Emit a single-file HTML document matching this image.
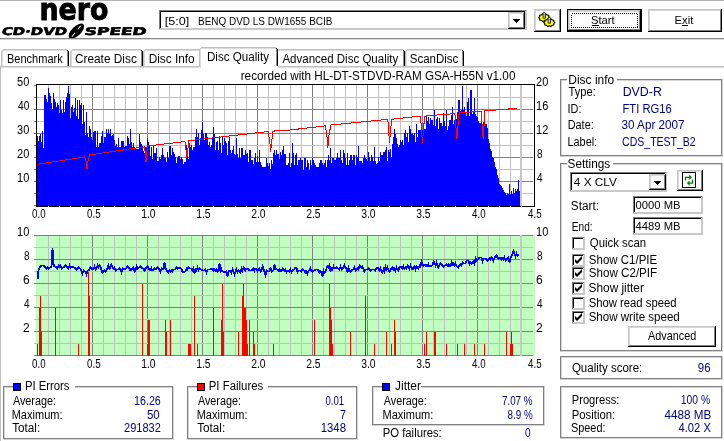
<!DOCTYPE html>
<html><head><meta charset="utf-8"><title>Nero CD-DVD Speed</title>
<style>html,body{margin:0;padding:0;background:#fff;overflow:hidden}svg{display:block}text{shape-rendering:auto}</style>
</head><body>
<svg width="724" height="441" viewBox="0 0 724 441" font-family="Liberation Sans, Arial, sans-serif" shape-rendering="crispEdges"><rect x="0" y="0" width="724" height="1" fill="#b4b4b4"/>
<text x="39.5" y="19.6" font-family="DejaVu Sans, sans-serif" font-weight="bold" font-size="30" fill="#000" stroke="#000" stroke-width="0.9" textLength="69" lengthAdjust="spacingAndGlyphs">nero</text>
<g transform="translate(6.2,0) skewX(-11)">
<text x="1.8" y="35.2" font-family="DejaVu Sans, sans-serif" font-weight="bold" font-size="10.5" fill="#000" stroke="#000" stroke-width="0.6" stroke-linejoin="round" textLength="65.2" lengthAdjust="spacingAndGlyphs">CD·DVD</text>
<text x="84.6" y="35.2" font-family="DejaVu Sans, sans-serif" font-weight="bold" font-size="10.5" fill="#000" stroke="#000" stroke-width="0.6" stroke-linejoin="round" textLength="62" lengthAdjust="spacingAndGlyphs">SPEED</text>
</g>
<g transform="translate(76.4,31.1) rotate(-44)" shape-rendering="auto"><ellipse cx="0" cy="0" rx="9.8" ry="4.6" fill="#000"/><path d="M-7.2,0.9 L-2,0.3 M2.2,-0.3 L6.8,-0.9" stroke="#fff" stroke-width="1"/></g>
<rect x="159" y="10" width="368" height="1" fill="#808080"/>
<rect x="159" y="10" width="1" height="20" fill="#808080"/>
<rect x="159" y="29" width="368" height="1" fill="#c8c8c8"/>
<rect x="526" y="10" width="1" height="20" fill="#c8c8c8"/>
<rect x="160" y="11" width="366" height="1" fill="#000"/>
<rect x="160" y="11" width="1" height="18" fill="#000"/>
<rect x="160" y="28" width="366" height="1" fill="#c8c8c8"/>
<rect x="525" y="11" width="1" height="18" fill="#c8c8c8"/>
<rect x="161" y="12" width="364" height="16" fill="#fff"/>
<rect x="508" y="12" width="17" height="17" fill="#fff"/>
<rect x="508" y="12" width="17" height="1" fill="#c4c4c4"/>
<rect x="508" y="12" width="1" height="17" fill="#c4c4c4"/>
<rect x="509" y="13" width="15" height="1" fill="#d8d8d8"/>
<rect x="509" y="13" width="1" height="15" fill="#d8d8d8"/>
<rect x="508" y="28" width="17" height="1" fill="#000"/>
<rect x="524" y="12" width="1" height="17" fill="#000"/>
<rect x="509" y="27" width="15" height="1" fill="#808080"/>
<rect x="523" y="13" width="1" height="15" fill="#808080"/>
<path d="M513,19 h7 l-3.5,4 z" fill="#000"/>
<rect x="534" y="9" width="27" height="23" fill="#fff"/>
<rect x="534" y="9" width="27" height="1" fill="#c4c4c4"/>
<rect x="534" y="9" width="1" height="23" fill="#c4c4c4"/>
<rect x="535" y="10" width="25" height="1" fill="#d8d8d8"/>
<rect x="535" y="10" width="1" height="21" fill="#d8d8d8"/>
<rect x="534" y="31" width="27" height="1" fill="#000"/>
<rect x="560" y="9" width="1" height="23" fill="#000"/>
<rect x="535" y="30" width="25" height="1" fill="#808080"/>
<rect x="559" y="10" width="1" height="21" fill="#808080"/>
<polygon points="549.80,17.60 548.67,18.64 548.73,19.95 546.96,20.32 545.93,21.40 544.20,20.96 542.47,21.40 541.44,20.32 539.67,19.95 539.73,18.64 538.60,17.60 539.73,16.56 539.67,15.25 541.44,14.88 542.47,13.80 544.20,14.24 545.93,13.80 546.96,14.88 548.73,15.25 548.67,16.56" fill="#ffff00" stroke="#000" stroke-width="1.1" stroke-linejoin="round" shape-rendering="auto"/>
<path d="M543.0,18.200000000000003 V13.400000000000002 L544.2,11.8 L545.4000000000001,13.400000000000002 V18.200000000000003 Z" fill="#b8b8d0" stroke="#000" stroke-width="0.7" shape-rendering="auto"/>
<polygon points="554.90,22.60 553.77,23.64 553.83,24.95 552.06,25.32 551.03,26.40 549.30,25.96 547.57,26.40 546.54,25.32 544.77,24.95 544.83,23.64 543.70,22.60 544.83,21.56 544.77,20.25 546.54,19.88 547.57,18.80 549.30,19.24 551.03,18.80 552.06,19.88 553.83,20.25 553.77,21.56" fill="#ffff00" stroke="#000" stroke-width="1.1" stroke-linejoin="round" shape-rendering="auto"/>
<path d="M548.0999999999999,23.200000000000003 V18.400000000000002 L549.3,16.8 L550.5,18.400000000000002 V23.200000000000003 Z" fill="#b8b8d0" stroke="#000" stroke-width="0.7" shape-rendering="auto"/>
<rect x="567" y="9" width="75" height="23" fill="#fff"/>
<rect x="567.5" y="9.5" width="74" height="22" fill="none" stroke="#000"/>
<rect x="568" y="10" width="73" height="1" fill="#c4c4c4"/>
<rect x="568" y="10" width="1" height="21" fill="#c4c4c4"/>
<rect x="569" y="11" width="71" height="1" fill="#d8d8d8"/>
<rect x="569" y="11" width="1" height="19" fill="#d8d8d8"/>
<rect x="568" y="30" width="73" height="1" fill="#000"/>
<rect x="640" y="10" width="1" height="21" fill="#000"/>
<rect x="569" y="29" width="71" height="1" fill="#808080"/>
<rect x="639" y="11" width="1" height="19" fill="#808080"/>
<rect x="571.5" y="13.5" width="66" height="14" fill="none" stroke="#000" stroke-width="1" stroke-dasharray="1,1"/>
<rect x="592" y="25" width="7" height="1" fill="#000"/>
<rect x="648" y="9" width="74" height="23" fill="#fff"/>
<rect x="648" y="9" width="74" height="1" fill="#c4c4c4"/>
<rect x="648" y="9" width="1" height="23" fill="#c4c4c4"/>
<rect x="649" y="10" width="72" height="1" fill="#d8d8d8"/>
<rect x="649" y="10" width="1" height="21" fill="#d8d8d8"/>
<rect x="648" y="31" width="74" height="1" fill="#000"/>
<rect x="721" y="9" width="1" height="23" fill="#000"/>
<rect x="649" y="30" width="72" height="1" fill="#808080"/>
<rect x="720" y="10" width="1" height="21" fill="#808080"/>
<rect x="682" y="25" width="6" height="1" fill="#000"/>
<rect x="0" y="38" width="724" height="1" fill="#868686"/>
<rect x="0" y="39" width="724" height="1" fill="#dadada"/>
<rect x="0" y="66" width="724" height="1" fill="#c0c0c0"/>
<rect x="1" y="67" width="723" height="1" fill="#dcdcdc"/>
<rect x="0" y="66" width="1" height="375" fill="#c0c0c0"/>
<rect x="3" y="49" width="64" height="1" fill="#c0c0c0"/>
<rect x="3" y="50" width="64" height="1" fill="#dcdcdc"/>
<rect x="1" y="51" width="1" height="15" fill="#c0c0c0"/>
<rect x="2" y="51" width="1" height="15" fill="#dcdcdc"/>
<rect x="2" y="50" width="1" height="1" fill="#c0c0c0"/>
<rect x="68" y="51" width="1" height="15" fill="#000"/>
<rect x="67" y="50" width="1" height="1" fill="#000"/>
<rect x="67" y="51" width="1" height="15" fill="#909090"/>
<rect x="72" y="49" width="69" height="1" fill="#c0c0c0"/>
<rect x="72" y="50" width="69" height="1" fill="#dcdcdc"/>
<rect x="70" y="51" width="1" height="15" fill="#c0c0c0"/>
<rect x="71" y="51" width="1" height="15" fill="#dcdcdc"/>
<rect x="71" y="50" width="1" height="1" fill="#c0c0c0"/>
<rect x="142" y="51" width="1" height="15" fill="#000"/>
<rect x="141" y="50" width="1" height="1" fill="#000"/>
<rect x="141" y="51" width="1" height="15" fill="#909090"/>
<rect x="145" y="49" width="57" height="1" fill="#c0c0c0"/>
<rect x="145" y="50" width="57" height="1" fill="#dcdcdc"/>
<rect x="143" y="51" width="1" height="15" fill="#c0c0c0"/>
<rect x="144" y="51" width="1" height="15" fill="#dcdcdc"/>
<rect x="144" y="50" width="1" height="1" fill="#c0c0c0"/>
<rect x="203" y="51" width="1" height="15" fill="#000"/>
<rect x="202" y="50" width="1" height="1" fill="#000"/>
<rect x="202" y="51" width="1" height="15" fill="#909090"/>
<rect x="278" y="49" width="125" height="1" fill="#c0c0c0"/>
<rect x="278" y="50" width="125" height="1" fill="#dcdcdc"/>
<rect x="276" y="51" width="1" height="15" fill="#c0c0c0"/>
<rect x="277" y="51" width="1" height="15" fill="#dcdcdc"/>
<rect x="277" y="50" width="1" height="1" fill="#c0c0c0"/>
<rect x="404" y="51" width="1" height="15" fill="#000"/>
<rect x="403" y="50" width="1" height="1" fill="#000"/>
<rect x="403" y="51" width="1" height="15" fill="#909090"/>
<rect x="407" y="49" width="55" height="1" fill="#c0c0c0"/>
<rect x="407" y="50" width="55" height="1" fill="#dcdcdc"/>
<rect x="405" y="51" width="1" height="15" fill="#c0c0c0"/>
<rect x="406" y="51" width="1" height="15" fill="#dcdcdc"/>
<rect x="406" y="50" width="1" height="1" fill="#c0c0c0"/>
<rect x="463" y="51" width="1" height="15" fill="#000"/>
<rect x="462" y="50" width="1" height="1" fill="#000"/>
<rect x="462" y="51" width="1" height="15" fill="#909090"/>
<rect x="199" y="47" width="79" height="21" fill="#fff"/>
<rect x="201" y="47" width="75" height="1" fill="#c0c0c0"/>
<rect x="201" y="48" width="75" height="1" fill="#dcdcdc"/>
<rect x="199" y="49" width="1" height="19" fill="#c0c0c0"/>
<rect x="200" y="49" width="1" height="19" fill="#dcdcdc"/>
<rect x="200" y="48" width="1" height="1" fill="#c0c0c0"/>
<rect x="277" y="49" width="1" height="19" fill="#000"/>
<rect x="276" y="48" width="1" height="1" fill="#000"/>
<rect x="276" y="49" width="1" height="19" fill="#909090"/>
<rect x="199" y="66" width="79" height="1" fill="#fff"/>
<rect x="199" y="67" width="79" height="1" fill="#fff"/>
<rect x="199" y="49" width="1" height="18" fill="#c0c0c0"/>
<rect x="200" y="49" width="1" height="19" fill="#dcdcdc"/>
<rect x="48" y="85" width="1" height="121" fill="#c0c0c0"/>
<rect x="59" y="85" width="1" height="121" fill="#c0c0c0"/>
<rect x="70" y="85" width="1" height="121" fill="#c0c0c0"/>
<rect x="81" y="85" width="1" height="121" fill="#c0c0c0"/>
<rect x="92" y="85" width="1" height="121" fill="#808080"/>
<rect x="103" y="85" width="1" height="121" fill="#c0c0c0"/>
<rect x="114" y="85" width="1" height="121" fill="#c0c0c0"/>
<rect x="125" y="85" width="1" height="121" fill="#c0c0c0"/>
<rect x="136" y="85" width="1" height="121" fill="#c0c0c0"/>
<rect x="147" y="85" width="1" height="121" fill="#808080"/>
<rect x="158" y="85" width="1" height="121" fill="#c0c0c0"/>
<rect x="169" y="85" width="1" height="121" fill="#c0c0c0"/>
<rect x="180" y="85" width="1" height="121" fill="#c0c0c0"/>
<rect x="191" y="85" width="1" height="121" fill="#c0c0c0"/>
<rect x="202" y="85" width="1" height="121" fill="#808080"/>
<rect x="213" y="85" width="1" height="121" fill="#c0c0c0"/>
<rect x="224" y="85" width="1" height="121" fill="#c0c0c0"/>
<rect x="235" y="85" width="1" height="121" fill="#c0c0c0"/>
<rect x="246" y="85" width="1" height="121" fill="#c0c0c0"/>
<rect x="257" y="85" width="1" height="121" fill="#808080"/>
<rect x="268" y="85" width="1" height="121" fill="#c0c0c0"/>
<rect x="279" y="85" width="1" height="121" fill="#c0c0c0"/>
<rect x="290" y="85" width="1" height="121" fill="#c0c0c0"/>
<rect x="301" y="85" width="1" height="121" fill="#c0c0c0"/>
<rect x="312" y="85" width="1" height="121" fill="#808080"/>
<rect x="323" y="85" width="1" height="121" fill="#c0c0c0"/>
<rect x="334" y="85" width="1" height="121" fill="#c0c0c0"/>
<rect x="345" y="85" width="1" height="121" fill="#c0c0c0"/>
<rect x="356" y="85" width="1" height="121" fill="#c0c0c0"/>
<rect x="367" y="85" width="1" height="121" fill="#808080"/>
<rect x="378" y="85" width="1" height="121" fill="#c0c0c0"/>
<rect x="389" y="85" width="1" height="121" fill="#c0c0c0"/>
<rect x="400" y="85" width="1" height="121" fill="#c0c0c0"/>
<rect x="411" y="85" width="1" height="121" fill="#c0c0c0"/>
<rect x="422" y="85" width="1" height="121" fill="#808080"/>
<rect x="433" y="85" width="1" height="121" fill="#c0c0c0"/>
<rect x="444" y="85" width="1" height="121" fill="#c0c0c0"/>
<rect x="455" y="85" width="1" height="121" fill="#c0c0c0"/>
<rect x="466" y="85" width="1" height="121" fill="#c0c0c0"/>
<rect x="477" y="85" width="1" height="121" fill="#808080"/>
<rect x="488" y="85" width="1" height="121" fill="#c0c0c0"/>
<rect x="499" y="85" width="1" height="121" fill="#c0c0c0"/>
<rect x="510" y="85" width="1" height="121" fill="#c0c0c0"/>
<rect x="521" y="85" width="1" height="121" fill="#c0c0c0"/>
<rect x="37" y="97" width="496" height="1" fill="#c0c0c0"/>
<rect x="37" y="109" width="496" height="1" fill="#808080"/>
<rect x="37" y="121" width="496" height="1" fill="#c0c0c0"/>
<rect x="37" y="133" width="496" height="1" fill="#808080"/>
<rect x="37" y="145" width="496" height="1" fill="#c0c0c0"/>
<rect x="37" y="157" width="496" height="1" fill="#808080"/>
<rect x="37" y="169" width="496" height="1" fill="#c0c0c0"/>
<rect x="37" y="181" width="496" height="1" fill="#808080"/>
<rect x="37" y="193" width="496" height="1" fill="#c0c0c0"/>
<rect x="34" y="85" width="2" height="1" fill="#808080"/>
<rect x="34" y="97" width="2" height="1" fill="#808080"/>
<rect x="34" y="109" width="2" height="1" fill="#808080"/>
<rect x="34" y="121" width="2" height="1" fill="#808080"/>
<rect x="34" y="133" width="2" height="1" fill="#808080"/>
<rect x="34" y="145" width="2" height="1" fill="#808080"/>
<rect x="34" y="157" width="2" height="1" fill="#808080"/>
<rect x="34" y="169" width="2" height="1" fill="#808080"/>
<rect x="34" y="181" width="2" height="1" fill="#808080"/>
<rect x="34" y="193" width="2" height="1" fill="#808080"/>
<rect x="34" y="205" width="2" height="1" fill="#808080"/>
<rect x="520" y="85" width="2" height="121" fill="#c8c8c8"/>
<path d="M37,206V136M38,206V141M39,206V136M40,206V134M41,206V142M42,206V131M43,206V148M44,206V95M45,206V95M46,206V99M47,206V102M48,206V88M49,206V93M50,206V96M51,206V103M52,206V109M53,206V93M54,206V99M55,206V102M56,206V107M57,206V103M58,206V105M59,206V113M60,206V100M61,206V110M62,206V113M63,206V100M64,206V112M65,206V102M66,206V97M67,206V93M68,206V86M69,206V94M70,206V118M71,206V107M72,206V105M73,206V112M74,206V108M75,206V98M76,206V116M77,206V100M78,206V119M79,206V100M80,206V105M81,206V103M82,206V124M83,206V105M84,206V122M85,206V135M86,206V112M87,206V133M88,206V137M89,206V126M90,206V129M91,206V137M92,206V140M93,206V132M94,206V131M95,206V131M96,206V147M97,206V131M98,206V147M99,206V143M100,206V143M101,206V136M102,206V131M103,206V143M104,206V137M105,206V137M106,206V129M107,206V133M108,206V129M109,206V134M110,206V129M111,206V136M112,206V135M113,206V134M114,206V140M115,206V146M116,206V144M117,206V147M118,206V138M119,206V147M120,206V147M121,206V141M122,206V141M123,206V141M124,206V147M125,206V146M126,206V146M127,206V136M128,206V138M129,206V144M130,206V129M131,206V142M132,206V147M133,206V143M134,206V147M135,206V148M136,206V149M137,206V149M138,206V149M139,206V134M140,206V142M141,206V144M142,206V146M143,206V151M144,206V153M145,206V147M146,206V147M147,206V138M148,206V142M149,206V146M150,206V156M151,206V147M152,206V159M153,206V146M154,206V153M155,206V153M156,206V148M157,206V161M158,206V161M159,206V157M160,206V159M161,206V155M162,206V148M163,206V155M164,206V157M165,206V158M166,206V162M167,206V152M168,206V158M169,206V146M170,206V146M171,206V155M172,206V148M173,206V152M174,206V154M175,206V157M176,206V163M177,206V158M178,206V156M179,206V156M180,206V159M181,206V157M182,206V159M183,206V164M184,206V162M185,206V162M186,206V145M187,206V152M188,206V159M189,206V143M190,206V147M191,206V145M192,206V150M193,206V147M194,206V147M195,206V137M196,206V129M197,206V137M198,206V133M199,206V145M200,206V138M201,206V130M202,206V122M203,206V134M204,206V140M205,206V133M206,206V133M207,206V137M208,206V145M209,206V142M210,206V147M211,206V145M212,206V137M213,206V127M214,206V134M215,206V150M216,206V142M217,206V141M218,206V150M219,206V136M220,206V143M221,206V153M222,206V137M223,206V145M224,206V138M225,206V141M226,206V143M227,206V155M228,206V141M229,206V137M230,206V150M231,206V153M232,206V150M233,206V146M234,206V154M235,206V155M236,206V138M237,206V154M238,206V158M239,206V148M240,206V158M241,206V148M242,206V148M243,206V155M244,206V155M245,206V150M246,206V154M247,206V153M248,206V162M249,206V150M250,206V150M251,206V160M252,206V160M253,206V164M254,206V158M255,206V153M256,206V162M257,206V156M258,206V162M259,206V150M260,206V162M261,206V165M262,206V167M263,206V167M264,206V167M265,206V167M266,206V158M267,206V163M268,206V166M269,206V163M270,206V169M271,206V160M272,206V164M273,206V153M274,206V150M275,206V155M276,206V150M277,206V154M278,206V154M279,206V159M280,206V152M281,206V155M282,206V150M283,206V146M284,206V154M285,206V154M286,206V165M287,206V165M288,206V163M289,206V153M290,206V167M291,206V163M292,206V143M293,206V153M294,206V165M295,206V155M296,206V153M297,206V165M298,206V160M299,206V160M300,206V158M301,206V160M302,206V160M303,206V170M304,206V158M305,206V158M306,206V167M307,206V160M308,206V163M309,206V170M310,206V160M311,206V165M312,206V158M313,206V160M314,206V163M315,206V165M316,206V167M317,206V167M318,206V167M319,206V163M320,206V160M321,206V160M322,206V163M323,206V165M324,206V163M325,206V160M326,206V167M327,206V160M328,206V155M329,206V160M330,206V148M331,206V163M332,206V158M333,206V158M334,206V160M335,206V160M336,206V158M337,206V153M338,206V158M339,206V158M340,206V150M341,206V160M342,206V163M343,206V150M344,206V153M345,206V158M346,206V165M347,206V153M348,206V165M349,206V160M350,206V155M351,206V155M352,206V160M353,206V155M354,206V155M355,206V165M356,206V155M357,206V157M358,206V146M359,206V161M360,206V161M361,206V161M362,206V163M363,206V158M364,206V155M365,206V158M366,206V159M367,206V161M368,206V152M369,206V157M370,206V161M371,206V155M372,206V157M373,206V161M374,206V147M375,206V161M376,206V164M377,206V163M378,206V157M379,206V161M380,206V152M381,206V155M382,206V155M383,206V152M384,206V152M385,206V150M386,206V147M387,206V161M388,206V150M389,206V152M390,206V149M391,206V157M392,206V144M393,206V137M394,206V129M395,206V134M396,206V138M397,206V144M398,206V147M399,206V145M400,206V140M401,206V142M402,206V140M403,206V145M404,206V133M405,206V130M406,206V137M407,206V133M408,206V142M409,206V126M410,206V129M411,206V134M412,206V133M413,206V135M414,206V133M415,206V142M416,206V124M417,206V137M418,206V130M419,206V130M420,206V130M421,206V130M422,206V130M423,206V129M424,206V129M425,206V129M426,206V116M427,206V121M428,206V117M429,206V124M430,206V118M431,206V120M432,206V120M433,206V125M434,206V110M435,206V126M436,206V119M437,206V117M438,206V129M439,206V118M440,206V123M441,206V123M442,206V126M443,206V113M444,206V121M445,206V126M446,206V110M447,206V130M448,206V126M449,206V120M450,206V120M451,206V115M452,206V107M453,206V124M454,206V120M455,206V124M456,206V119M457,206V112M458,206V100M459,206V100M460,206V111M461,206V110M462,206V86M463,206V110M464,206V107M465,206V112M466,206V116M467,206V102M468,206V98M469,206V116M470,206V90M471,206V90M472,206V114M473,206V112M474,206V98M475,206V114M476,206V116M477,206V117M478,206V121M479,206V123M480,206V123M481,206V124M482,206V128M483,206V122M484,206V122M485,206V124M486,206V124M487,206V128M488,206V139M489,206V143M490,206V149M491,206V151M492,206V157M493,206V158M494,206V162M495,206V167M496,206V169M497,206V175M498,206V178M499,206V184M500,206V185M501,206V186M502,206V188M503,206V190M504,206V192M505,206V193M506,206V195M507,206V193M508,206V194M509,206V184M510,206V194M511,206V191M512,206V194M513,206V188M514,206V193M515,206V189M516,206V191M517,206V189M518,206V180M519,206V191" stroke="#0000ff" stroke-width="1" fill="none" transform="translate(0.5,0)"/>
<polyline points="37.5,164.3 84.5,157 86.0,161 87.0,168.7 88.0,161 89.5,155 138.2,147.7 144.5,147 145.5,155 146.0,162.4 146.7,155 147.4,146 184.9,141.6 186.0,150 186.8,158.4 187.8,150 188.7,140.7 216.5,137.5 268.2,131.5 269.7,141 270.7,151.6 271.7,141 273.0,131.5 276.5,130.4 286.5,130.4 325.3,125.9 326.9,136 327.9,147.6 328.9,136 330.8,125 356.5,122.5 387.8,119.3 388.7,131 389.5,143.4 390.5,131 391.6,119.3 420.5,116.1 421.5,130 422.5,143.4 423.5,130 424.6,116.1 440.7,114.7 454.9,113.6 455.9,126 456.9,139.4 457.9,126 459.1,112.7 474.4,111.7 481.1,111.7 482.1,125 483.1,138.6 484.1,125 484.9,110.6 508.5,109.3 509.0,108.4 516.5,108.4" fill="none" stroke="#ff0000" stroke-width="1"/>
<rect x="36.5" y="84.5" width="498" height="122" fill="none" stroke="#000" stroke-width="1"/>
<rect x="36" y="84" width="499" height="1" fill="#000"/>
<rect x="48" y="206" width="1" height="1" fill="#d8d8c0"/>
<rect x="59" y="206" width="1" height="1" fill="#d8d8c0"/>
<rect x="70" y="206" width="1" height="1" fill="#d8d8c0"/>
<rect x="81" y="206" width="1" height="1" fill="#d8d8c0"/>
<rect x="92" y="206" width="1" height="1" fill="#d8d8c0"/>
<rect x="103" y="206" width="1" height="1" fill="#d8d8c0"/>
<rect x="114" y="206" width="1" height="1" fill="#d8d8c0"/>
<rect x="125" y="206" width="1" height="1" fill="#d8d8c0"/>
<rect x="136" y="206" width="1" height="1" fill="#d8d8c0"/>
<rect x="147" y="206" width="1" height="1" fill="#d8d8c0"/>
<rect x="158" y="206" width="1" height="1" fill="#d8d8c0"/>
<rect x="169" y="206" width="1" height="1" fill="#d8d8c0"/>
<rect x="180" y="206" width="1" height="1" fill="#d8d8c0"/>
<rect x="191" y="206" width="1" height="1" fill="#d8d8c0"/>
<rect x="202" y="206" width="1" height="1" fill="#d8d8c0"/>
<rect x="213" y="206" width="1" height="1" fill="#d8d8c0"/>
<rect x="224" y="206" width="1" height="1" fill="#d8d8c0"/>
<rect x="235" y="206" width="1" height="1" fill="#d8d8c0"/>
<rect x="246" y="206" width="1" height="1" fill="#d8d8c0"/>
<rect x="257" y="206" width="1" height="1" fill="#d8d8c0"/>
<rect x="268" y="206" width="1" height="1" fill="#d8d8c0"/>
<rect x="279" y="206" width="1" height="1" fill="#d8d8c0"/>
<rect x="290" y="206" width="1" height="1" fill="#d8d8c0"/>
<rect x="301" y="206" width="1" height="1" fill="#d8d8c0"/>
<rect x="312" y="206" width="1" height="1" fill="#d8d8c0"/>
<rect x="323" y="206" width="1" height="1" fill="#d8d8c0"/>
<rect x="334" y="206" width="1" height="1" fill="#d8d8c0"/>
<rect x="345" y="206" width="1" height="1" fill="#d8d8c0"/>
<rect x="356" y="206" width="1" height="1" fill="#d8d8c0"/>
<rect x="367" y="206" width="1" height="1" fill="#d8d8c0"/>
<rect x="378" y="206" width="1" height="1" fill="#d8d8c0"/>
<rect x="389" y="206" width="1" height="1" fill="#d8d8c0"/>
<rect x="400" y="206" width="1" height="1" fill="#d8d8c0"/>
<rect x="411" y="206" width="1" height="1" fill="#d8d8c0"/>
<rect x="422" y="206" width="1" height="1" fill="#d8d8c0"/>
<rect x="433" y="206" width="1" height="1" fill="#d8d8c0"/>
<rect x="444" y="206" width="1" height="1" fill="#d8d8c0"/>
<rect x="455" y="206" width="1" height="1" fill="#d8d8c0"/>
<rect x="466" y="206" width="1" height="1" fill="#d8d8c0"/>
<rect x="477" y="206" width="1" height="1" fill="#d8d8c0"/>
<rect x="488" y="206" width="1" height="1" fill="#d8d8c0"/>
<rect x="499" y="206" width="1" height="1" fill="#d8d8c0"/>
<rect x="510" y="206" width="1" height="1" fill="#d8d8c0"/>
<rect x="521" y="206" width="1" height="1" fill="#d8d8c0"/>
<rect x="36" y="235" width="499" height="121" fill="#c0ffc0"/>
<rect x="48" y="235" width="1" height="121" fill="#c0c0c0"/>
<rect x="59" y="235" width="1" height="121" fill="#c0c0c0"/>
<rect x="70" y="235" width="1" height="121" fill="#c0c0c0"/>
<rect x="81" y="235" width="1" height="121" fill="#c0c0c0"/>
<rect x="92" y="235" width="1" height="121" fill="#808080"/>
<rect x="103" y="235" width="1" height="121" fill="#c0c0c0"/>
<rect x="114" y="235" width="1" height="121" fill="#c0c0c0"/>
<rect x="125" y="235" width="1" height="121" fill="#c0c0c0"/>
<rect x="136" y="235" width="1" height="121" fill="#c0c0c0"/>
<rect x="147" y="235" width="1" height="121" fill="#808080"/>
<rect x="158" y="235" width="1" height="121" fill="#c0c0c0"/>
<rect x="169" y="235" width="1" height="121" fill="#c0c0c0"/>
<rect x="180" y="235" width="1" height="121" fill="#c0c0c0"/>
<rect x="191" y="235" width="1" height="121" fill="#c0c0c0"/>
<rect x="202" y="235" width="1" height="121" fill="#808080"/>
<rect x="213" y="235" width="1" height="121" fill="#c0c0c0"/>
<rect x="224" y="235" width="1" height="121" fill="#c0c0c0"/>
<rect x="235" y="235" width="1" height="121" fill="#c0c0c0"/>
<rect x="246" y="235" width="1" height="121" fill="#c0c0c0"/>
<rect x="257" y="235" width="1" height="121" fill="#808080"/>
<rect x="268" y="235" width="1" height="121" fill="#c0c0c0"/>
<rect x="279" y="235" width="1" height="121" fill="#c0c0c0"/>
<rect x="290" y="235" width="1" height="121" fill="#c0c0c0"/>
<rect x="301" y="235" width="1" height="121" fill="#c0c0c0"/>
<rect x="312" y="235" width="1" height="121" fill="#808080"/>
<rect x="323" y="235" width="1" height="121" fill="#c0c0c0"/>
<rect x="334" y="235" width="1" height="121" fill="#c0c0c0"/>
<rect x="345" y="235" width="1" height="121" fill="#c0c0c0"/>
<rect x="356" y="235" width="1" height="121" fill="#c0c0c0"/>
<rect x="367" y="235" width="1" height="121" fill="#808080"/>
<rect x="378" y="235" width="1" height="121" fill="#c0c0c0"/>
<rect x="389" y="235" width="1" height="121" fill="#c0c0c0"/>
<rect x="400" y="235" width="1" height="121" fill="#c0c0c0"/>
<rect x="411" y="235" width="1" height="121" fill="#c0c0c0"/>
<rect x="422" y="235" width="1" height="121" fill="#808080"/>
<rect x="433" y="235" width="1" height="121" fill="#c0c0c0"/>
<rect x="444" y="235" width="1" height="121" fill="#c0c0c0"/>
<rect x="455" y="235" width="1" height="121" fill="#c0c0c0"/>
<rect x="466" y="235" width="1" height="121" fill="#c0c0c0"/>
<rect x="477" y="235" width="1" height="121" fill="#808080"/>
<rect x="488" y="235" width="1" height="121" fill="#c0c0c0"/>
<rect x="499" y="235" width="1" height="121" fill="#c0c0c0"/>
<rect x="510" y="235" width="1" height="121" fill="#c0c0c0"/>
<rect x="521" y="235" width="1" height="121" fill="#c0c0c0"/>
<rect x="34" y="235" width="499" height="1" fill="#808080"/>
<rect x="34" y="247" width="499" height="1" fill="#c0c0c0"/>
<rect x="34" y="259" width="499" height="1" fill="#808080"/>
<rect x="34" y="271" width="499" height="1" fill="#c0c0c0"/>
<rect x="34" y="283" width="499" height="1" fill="#808080"/>
<rect x="34" y="295" width="499" height="1" fill="#c0c0c0"/>
<rect x="34" y="307" width="499" height="1" fill="#808080"/>
<rect x="34" y="319" width="499" height="1" fill="#c0c0c0"/>
<rect x="34" y="331" width="499" height="1" fill="#808080"/>
<rect x="34" y="343" width="499" height="1" fill="#c0c0c0"/>
<rect x="34" y="355" width="499" height="1" fill="#808080"/>
<rect x="520" y="235" width="2" height="121" fill="#c8c8c8"/>
<rect x="37" y="344" width="1" height="12" fill="#ff0000"/>
<rect x="39" y="308" width="1" height="48" fill="#ff0000"/>
<rect x="40" y="296" width="1" height="60" fill="#ff0000"/>
<rect x="41" y="332" width="1" height="24" fill="#ff0000"/>
<rect x="55" y="308" width="1" height="48" fill="#ff0000"/>
<rect x="78" y="344" width="1" height="12" fill="#ff0000"/>
<rect x="88" y="272" width="1" height="84" fill="#ff0000"/>
<rect x="89" y="296" width="1" height="60" fill="#ff0000"/>
<rect x="142" y="284" width="1" height="72" fill="#ff0000"/>
<rect x="147" y="344" width="1" height="12" fill="#ff0000"/>
<rect x="148" y="320" width="1" height="36" fill="#ff0000"/>
<rect x="149" y="320" width="1" height="36" fill="#ff0000"/>
<rect x="165" y="320" width="1" height="36" fill="#ff0000"/>
<rect x="166" y="332" width="1" height="24" fill="#ff0000"/>
<rect x="170" y="320" width="1" height="36" fill="#ff0000"/>
<rect x="188" y="344" width="1" height="12" fill="#ff0000"/>
<rect x="189" y="344" width="1" height="12" fill="#ff0000"/>
<rect x="190" y="344" width="1" height="12" fill="#ff0000"/>
<rect x="194" y="296" width="1" height="60" fill="#ff0000"/>
<rect x="197" y="344" width="1" height="12" fill="#ff0000"/>
<rect x="213" y="308" width="1" height="48" fill="#ff0000"/>
<rect x="221" y="320" width="1" height="36" fill="#ff0000"/>
<rect x="222" y="284" width="1" height="72" fill="#ff0000"/>
<rect x="223" y="332" width="1" height="24" fill="#ff0000"/>
<rect x="238" y="332" width="1" height="24" fill="#ff0000"/>
<rect x="242" y="296" width="1" height="60" fill="#ff0000"/>
<rect x="243" y="284" width="1" height="72" fill="#ff0000"/>
<rect x="244" y="308" width="1" height="48" fill="#ff0000"/>
<rect x="245" y="308" width="1" height="48" fill="#ff0000"/>
<rect x="246" y="320" width="1" height="36" fill="#ff0000"/>
<rect x="247" y="344" width="1" height="12" fill="#ff0000"/>
<rect x="249" y="320" width="1" height="36" fill="#ff0000"/>
<rect x="253" y="332" width="1" height="24" fill="#ff0000"/>
<rect x="254" y="344" width="1" height="12" fill="#ff0000"/>
<rect x="273" y="344" width="1" height="12" fill="#ff0000"/>
<rect x="314" y="320" width="1" height="36" fill="#ff0000"/>
<rect x="329" y="284" width="1" height="72" fill="#ff0000"/>
<rect x="330" y="308" width="1" height="48" fill="#ff0000"/>
<rect x="331" y="320" width="1" height="36" fill="#ff0000"/>
<rect x="332" y="344" width="1" height="12" fill="#ff0000"/>
<rect x="350" y="332" width="1" height="24" fill="#ff0000"/>
<rect x="365" y="296" width="1" height="60" fill="#ff0000"/>
<rect x="374" y="344" width="1" height="12" fill="#ff0000"/>
<rect x="386" y="332" width="1" height="24" fill="#ff0000"/>
<rect x="391" y="344" width="1" height="12" fill="#ff0000"/>
<rect x="394" y="320" width="1" height="36" fill="#ff0000"/>
<rect x="395" y="332" width="1" height="24" fill="#ff0000"/>
<rect x="424" y="344" width="1" height="12" fill="#ff0000"/>
<rect x="426" y="332" width="1" height="24" fill="#ff0000"/>
<rect x="434" y="332" width="1" height="24" fill="#ff0000"/>
<rect x="435" y="332" width="1" height="24" fill="#ff0000"/>
<rect x="446" y="344" width="1" height="12" fill="#ff0000"/>
<rect x="457" y="344" width="1" height="12" fill="#ff0000"/>
<rect x="464" y="344" width="1" height="12" fill="#ff0000"/>
<rect x="474" y="344" width="1" height="12" fill="#ff0000"/>
<rect x="484" y="344" width="1" height="12" fill="#ff0000"/>
<rect x="506" y="332" width="1" height="24" fill="#ff0000"/>
<rect x="510" y="344" width="1" height="12" fill="#ff0000"/>
<rect x="511" y="332" width="1" height="24" fill="#ff0000"/>
<rect x="512" y="344" width="1" height="12" fill="#ff0000"/>
<polyline points="37.5,279.5 38.5,270.5 39.5,267.5 40.5,266.5 41.5,265.5 42.5,265.5 43.5,265.5 44.5,266.5 45.5,267.5 46.5,268.5 47.5,267.5 48.5,268.5 49.5,267.5 50.5,267.5 51.5,266.5 52.5,248.5 53.5,264.5 54.5,266.5 55.5,266.5 56.5,267.5 57.5,268.5 58.5,265.5 59.5,266.5 60.5,265.5 61.5,268.5 62.5,267.5 63.5,267.5 64.5,266.5 65.5,265.5 66.5,266.5 67.5,267.5 68.5,268.5 69.5,265.5 70.5,267.5 71.5,266.5 72.5,266.5 73.5,267.5 74.5,267.5 75.5,268.5 76.5,269.5 77.5,268.5 78.5,267.5 79.5,268.5 80.5,268.5 81.5,271.5 82.5,273.5 83.5,270.5 84.5,271.5 85.5,271.5 86.5,274.5 87.5,270.5 88.5,270.5 89.5,269.5 90.5,267.5 91.5,268.5 92.5,269.5 93.5,269.5 94.5,266.5 95.5,269.5 96.5,268.5 97.5,265.5 98.5,267.5 99.5,265.5 100.5,266.5 101.5,270.5 102.5,272.5 103.5,271.5 104.5,270.5 105.5,271.5 106.5,270.5 107.5,267.5 108.5,265.5 109.5,269.5 110.5,265.5 111.5,264.5 112.5,267.5 113.5,268.5 114.5,267.5 115.5,270.5 116.5,269.5 117.5,269.5 118.5,269.5 119.5,268.5 120.5,269.5 121.5,272.5 122.5,268.5 123.5,269.5 124.5,269.5 125.5,268.5 126.5,268.5 127.5,266.5 128.5,267.5 129.5,268.5 130.5,270.5 131.5,270.5 132.5,268.5 133.5,267.5 134.5,271.5 135.5,270.5 136.5,266.5 137.5,268.5 138.5,267.5 139.5,267.5 140.5,266.5 141.5,267.5 142.5,268.5 143.5,268.5 144.5,270.5 145.5,269.5 146.5,267.5 147.5,266.5 148.5,267.5 149.5,270.5 150.5,270.5 151.5,268.5 152.5,270.5 153.5,270.5 154.5,268.5 155.5,269.5 156.5,269.5 157.5,267.5 158.5,268.5 159.5,269.5 160.5,271.5 161.5,268.5 162.5,269.5 163.5,269.5 164.5,262.5 165.5,267.5 166.5,270.5 167.5,271.5 168.5,272.5 169.5,270.5 170.5,271.5 171.5,270.5 172.5,271.5 173.5,269.5 174.5,269.5 175.5,269.5 176.5,267.5 177.5,268.5 178.5,267.5 179.5,267.5 180.5,268.5 181.5,268.5 182.5,272.5 183.5,272.5 184.5,271.5 185.5,271.5 186.5,268.5 187.5,269.5 188.5,267.5 189.5,268.5 190.5,268.5 191.5,268.5 192.5,270.5 193.5,268.5 194.5,273.5 195.5,269.5 196.5,270.5 197.5,267.5 198.5,270.5 199.5,268.5 200.5,269.5 201.5,269.5 202.5,270.5 203.5,270.5 204.5,270.5 205.5,269.5 206.5,272.5 207.5,269.5 208.5,269.5 209.5,269.5 210.5,269.5 211.5,268.5 212.5,268.5 213.5,270.5 214.5,269.5 215.5,270.5 216.5,269.5 217.5,271.5 218.5,270.5 219.5,263.5 220.5,271.5 221.5,269.5 222.5,271.5 223.5,271.5 224.5,272.5 225.5,272.5 226.5,271.5 227.5,276.5 228.5,271.5 229.5,270.5 230.5,270.5 231.5,272.5 232.5,269.5 233.5,271.5 234.5,274.5 235.5,271.5 236.5,269.5 237.5,272.5 238.5,270.5 239.5,271.5 240.5,272.5 241.5,268.5 242.5,270.5 243.5,267.5 244.5,268.5 245.5,270.5 246.5,268.5 247.5,268.5 248.5,269.5 249.5,270.5 250.5,270.5 251.5,270.5 252.5,269.5 253.5,268.5 254.5,270.5 255.5,268.5 256.5,268.5 257.5,271.5 258.5,269.5 259.5,268.5 260.5,271.5 261.5,270.5 262.5,266.5 263.5,268.5 264.5,272.5 265.5,275.5 266.5,270.5 267.5,271.5 268.5,271.5 269.5,271.5 270.5,267.5 271.5,271.5 272.5,270.5 273.5,270.5 274.5,264.5 275.5,268.5 276.5,269.5 277.5,269.5 278.5,270.5 279.5,269.5 280.5,271.5 281.5,271.5 282.5,268.5 283.5,269.5 284.5,270.5 285.5,269.5 286.5,272.5 287.5,270.5 288.5,270.5 289.5,271.5 290.5,269.5 291.5,272.5 292.5,270.5 293.5,269.5 294.5,269.5 295.5,267.5 296.5,267.5 297.5,272.5 298.5,270.5 299.5,270.5 300.5,270.5 301.5,271.5 302.5,269.5 303.5,270.5 304.5,270.5 305.5,272.5 306.5,271.5 307.5,273.5 308.5,270.5 309.5,270.5 310.5,268.5 311.5,270.5 312.5,271.5 313.5,270.5 314.5,270.5 315.5,269.5 316.5,269.5 317.5,269.5 318.5,270.5 319.5,272.5 320.5,271.5 321.5,272.5 322.5,276.5 323.5,270.5 324.5,272.5 325.5,271.5 326.5,268.5 327.5,266.5 328.5,267.5 329.5,265.5 330.5,271.5 331.5,268.5 332.5,269.5 333.5,266.5 334.5,268.5 335.5,268.5 336.5,267.5 337.5,268.5 338.5,268.5 339.5,269.5 340.5,266.5 341.5,269.5 342.5,268.5 343.5,267.5 344.5,265.5 345.5,267.5 346.5,268.5 347.5,272.5 348.5,267.5 349.5,270.5 350.5,271.5 351.5,270.5 352.5,269.5 353.5,269.5 354.5,267.5 355.5,270.5 356.5,269.5 357.5,268.5 358.5,269.5 359.5,265.5 360.5,266.5 361.5,267.5 362.5,266.5 363.5,269.5 364.5,271.5 365.5,269.5 366.5,269.5 367.5,269.5 368.5,268.5 369.5,269.5 370.5,270.5 371.5,269.5 372.5,269.5 373.5,269.5 374.5,269.5 375.5,270.5 376.5,267.5 377.5,267.5 378.5,268.5 379.5,270.5 380.5,268.5 381.5,271.5 382.5,272.5 383.5,269.5 384.5,271.5 385.5,266.5 386.5,269.5 387.5,267.5 388.5,270.5 389.5,271.5 390.5,270.5 391.5,268.5 392.5,267.5 393.5,269.5 394.5,268.5 395.5,270.5 396.5,267.5 397.5,269.5 398.5,270.5 399.5,266.5 400.5,266.5 401.5,267.5 402.5,268.5 403.5,266.5 404.5,268.5 405.5,267.5 406.5,268.5 407.5,265.5 408.5,266.5 409.5,268.5 410.5,265.5 411.5,267.5 412.5,269.5 413.5,269.5 414.5,265.5 415.5,269.5 416.5,266.5 417.5,267.5 418.5,268.5 419.5,265.5 420.5,266.5 421.5,261.5 422.5,264.5 423.5,265.5 424.5,264.5 425.5,264.5 426.5,266.5 427.5,266.5 428.5,264.5 429.5,266.5 430.5,266.5 431.5,265.5 432.5,265.5 433.5,261.5 434.5,262.5 435.5,265.5 436.5,262.5 437.5,266.5 438.5,267.5 439.5,264.5 440.5,263.5 441.5,264.5 442.5,265.5 443.5,266.5 444.5,265.5 445.5,265.5 446.5,264.5 447.5,265.5 448.5,264.5 449.5,266.5 450.5,266.5 451.5,262.5 452.5,264.5 453.5,263.5 454.5,265.5 455.5,263.5 456.5,266.5 457.5,266.5 458.5,267.5 459.5,265.5 460.5,264.5 461.5,265.5 462.5,262.5 463.5,263.5 464.5,263.5 465.5,263.5 466.5,260.5 467.5,260.5 468.5,260.5 469.5,264.5 470.5,262.5 471.5,263.5 472.5,262.5 473.5,261.5 474.5,263.5 475.5,258.5 476.5,260.5 477.5,259.5 478.5,259.5 479.5,257.5 480.5,257.5 481.5,257.5 482.5,261.5 483.5,258.5 484.5,258.5 485.5,258.5 486.5,259.5 487.5,260.5 488.5,259.5 489.5,258.5 490.5,259.5 491.5,257.5 492.5,258.5 493.5,260.5 494.5,257.5 495.5,256.5 496.5,255.5 497.5,257.5 498.5,258.5 499.5,257.5 500.5,257.5 501.5,259.5 502.5,258.5 503.5,259.5 504.5,257.5 505.5,260.5 506.5,259.5 507.5,258.5 508.5,257.5 509.5,262.5 510.5,257.5 511.5,256.5 512.5,253.5 513.5,251.5 514.5,253.5 515.5,256.5 516.5,253.5 517.5,255.5 518.5,254.5" fill="none" stroke="#0000ff" stroke-width="1.8"/>
<rect x="561" y="80" width="6" height="1" fill="#d4d4d4"/>
<rect x="617" y="80" width="104" height="1" fill="#d4d4d4"/>
<rect x="561" y="80" width="1" height="75" fill="#d4d4d4"/>
<rect x="722" y="79" width="1" height="78" fill="#d4d4d4"/>
<rect x="560" y="156" width="163" height="1" fill="#d4d4d4"/>
<rect x="560" y="79" width="7" height="1" fill="#808080"/>
<rect x="617" y="79" width="105" height="1" fill="#808080"/>
<rect x="560" y="79" width="1" height="77" fill="#808080"/>
<rect x="721" y="79" width="1" height="77" fill="#808080"/>
<rect x="560" y="155" width="162" height="1" fill="#808080"/>
<rect x="561" y="164" width="6" height="1" fill="#d4d4d4"/>
<rect x="613" y="164" width="108" height="1" fill="#d4d4d4"/>
<rect x="561" y="164" width="1" height="186" fill="#d4d4d4"/>
<rect x="722" y="163" width="1" height="189" fill="#d4d4d4"/>
<rect x="560" y="351" width="163" height="1" fill="#d4d4d4"/>
<rect x="560" y="163" width="7" height="1" fill="#808080"/>
<rect x="613" y="163" width="109" height="1" fill="#808080"/>
<rect x="560" y="163" width="1" height="188" fill="#808080"/>
<rect x="721" y="163" width="1" height="188" fill="#808080"/>
<rect x="560" y="350" width="162" height="1" fill="#808080"/>
<rect x="570" y="172" width="97" height="1" fill="#808080"/>
<rect x="570" y="172" width="1" height="20" fill="#808080"/>
<rect x="570" y="191" width="97" height="1" fill="#c8c8c8"/>
<rect x="666" y="172" width="1" height="20" fill="#c8c8c8"/>
<rect x="571" y="173" width="95" height="1" fill="#000"/>
<rect x="571" y="173" width="1" height="18" fill="#000"/>
<rect x="571" y="190" width="95" height="1" fill="#c8c8c8"/>
<rect x="665" y="173" width="1" height="18" fill="#c8c8c8"/>
<rect x="572" y="174" width="93" height="16" fill="#fff"/>
<rect x="649" y="174" width="17" height="16" fill="#fff"/>
<rect x="649" y="174" width="17" height="1" fill="#c4c4c4"/>
<rect x="649" y="174" width="1" height="16" fill="#c4c4c4"/>
<rect x="650" y="175" width="15" height="1" fill="#d8d8d8"/>
<rect x="650" y="175" width="1" height="14" fill="#d8d8d8"/>
<rect x="649" y="189" width="17" height="1" fill="#000"/>
<rect x="665" y="174" width="1" height="16" fill="#000"/>
<rect x="650" y="188" width="15" height="1" fill="#808080"/>
<rect x="664" y="175" width="1" height="14" fill="#808080"/>
<path d="M654,181 h7 l-3.5,4 z" fill="#000"/>
<rect x="677" y="170" width="26" height="21" fill="#fff"/>
<rect x="677" y="170" width="26" height="1" fill="#c4c4c4"/>
<rect x="677" y="170" width="1" height="21" fill="#c4c4c4"/>
<rect x="678" y="171" width="24" height="1" fill="#d8d8d8"/>
<rect x="678" y="171" width="1" height="19" fill="#d8d8d8"/>
<rect x="677" y="190" width="26" height="1" fill="#000"/>
<rect x="702" y="170" width="1" height="21" fill="#000"/>
<rect x="678" y="189" width="24" height="1" fill="#808080"/>
<rect x="701" y="171" width="1" height="19" fill="#808080"/>
<rect x="682.5" y="172.5" width="13" height="15" fill="none" stroke="#000"/>
<g fill="none" stroke="#008000" stroke-width="1.3" shape-rendering="auto"><path d="M685.5,180.5 v-3.2 h4"/><path d="M692.5,179.5 v3.6 h-4"/></g>
<path d="M689.2,174.6 l2.8,2.7 l-2.8,2.7 z M689.6,180.4 l-2.8,2.7 l2.8,2.7 z" fill="#008000" shape-rendering="auto"/>
<rect x="633" y="196" width="70" height="1" fill="#808080"/>
<rect x="633" y="196" width="1" height="18" fill="#808080"/>
<rect x="633" y="213" width="70" height="1" fill="#c8c8c8"/>
<rect x="702" y="196" width="1" height="18" fill="#c8c8c8"/>
<rect x="634" y="197" width="68" height="1" fill="#000"/>
<rect x="634" y="197" width="1" height="16" fill="#000"/>
<rect x="634" y="212" width="68" height="1" fill="#c8c8c8"/>
<rect x="701" y="197" width="1" height="16" fill="#c8c8c8"/>
<rect x="635" y="198" width="66" height="14" fill="#fff"/>
<rect x="633" y="217" width="70" height="1" fill="#808080"/>
<rect x="633" y="217" width="1" height="18" fill="#808080"/>
<rect x="633" y="234" width="70" height="1" fill="#c8c8c8"/>
<rect x="702" y="217" width="1" height="18" fill="#c8c8c8"/>
<rect x="634" y="218" width="68" height="1" fill="#000"/>
<rect x="634" y="218" width="1" height="16" fill="#000"/>
<rect x="634" y="233" width="68" height="1" fill="#c8c8c8"/>
<rect x="701" y="218" width="1" height="16" fill="#c8c8c8"/>
<rect x="635" y="219" width="66" height="14" fill="#fff"/>
<rect x="572" y="237" width="13" height="1" fill="#808080"/>
<rect x="572" y="237" width="1" height="13" fill="#808080"/>
<rect x="572" y="249" width="13" height="1" fill="#c8c8c8"/>
<rect x="584" y="237" width="1" height="13" fill="#c8c8c8"/>
<rect x="573" y="238" width="11" height="1" fill="#000"/>
<rect x="573" y="238" width="1" height="11" fill="#000"/>
<rect x="573" y="248" width="11" height="1" fill="#c8c8c8"/>
<rect x="583" y="238" width="1" height="11" fill="#c8c8c8"/>
<rect x="574" y="239" width="9" height="9" fill="#fff"/>
<rect x="572" y="254" width="13" height="1" fill="#808080"/>
<rect x="572" y="254" width="1" height="13" fill="#808080"/>
<rect x="572" y="266" width="13" height="1" fill="#c8c8c8"/>
<rect x="584" y="254" width="1" height="13" fill="#c8c8c8"/>
<rect x="573" y="255" width="11" height="1" fill="#000"/>
<rect x="573" y="255" width="1" height="11" fill="#000"/>
<rect x="573" y="265" width="11" height="1" fill="#c8c8c8"/>
<rect x="583" y="255" width="1" height="11" fill="#c8c8c8"/>
<rect x="574" y="256" width="9" height="9" fill="#fff"/>
<path d="M575,259 L577,261 L582,256 L582,259 L577,264 L575,262 Z" fill="#000" shape-rendering="auto"/>
<rect x="572" y="267" width="13" height="1" fill="#808080"/>
<rect x="572" y="267" width="1" height="13" fill="#808080"/>
<rect x="572" y="279" width="13" height="1" fill="#c8c8c8"/>
<rect x="584" y="267" width="1" height="13" fill="#c8c8c8"/>
<rect x="573" y="268" width="11" height="1" fill="#000"/>
<rect x="573" y="268" width="1" height="11" fill="#000"/>
<rect x="573" y="278" width="11" height="1" fill="#c8c8c8"/>
<rect x="583" y="268" width="1" height="11" fill="#c8c8c8"/>
<rect x="574" y="269" width="9" height="9" fill="#fff"/>
<path d="M575,272 L577,274 L582,269 L582,272 L577,277 L575,275 Z" fill="#000" shape-rendering="auto"/>
<rect x="572" y="282" width="13" height="1" fill="#808080"/>
<rect x="572" y="282" width="1" height="13" fill="#808080"/>
<rect x="572" y="294" width="13" height="1" fill="#c8c8c8"/>
<rect x="584" y="282" width="1" height="13" fill="#c8c8c8"/>
<rect x="573" y="283" width="11" height="1" fill="#000"/>
<rect x="573" y="283" width="1" height="11" fill="#000"/>
<rect x="573" y="293" width="11" height="1" fill="#c8c8c8"/>
<rect x="583" y="283" width="1" height="11" fill="#c8c8c8"/>
<rect x="574" y="284" width="9" height="9" fill="#fff"/>
<path d="M575,287 L577,289 L582,284 L582,287 L577,292 L575,290 Z" fill="#000" shape-rendering="auto"/>
<rect x="572" y="297" width="13" height="1" fill="#808080"/>
<rect x="572" y="297" width="1" height="13" fill="#808080"/>
<rect x="572" y="309" width="13" height="1" fill="#c8c8c8"/>
<rect x="584" y="297" width="1" height="13" fill="#c8c8c8"/>
<rect x="573" y="298" width="11" height="1" fill="#000"/>
<rect x="573" y="298" width="1" height="11" fill="#000"/>
<rect x="573" y="308" width="11" height="1" fill="#c8c8c8"/>
<rect x="583" y="298" width="1" height="11" fill="#c8c8c8"/>
<rect x="574" y="299" width="9" height="9" fill="#fff"/>
<rect x="572" y="311" width="13" height="1" fill="#808080"/>
<rect x="572" y="311" width="1" height="13" fill="#808080"/>
<rect x="572" y="323" width="13" height="1" fill="#c8c8c8"/>
<rect x="584" y="311" width="1" height="13" fill="#c8c8c8"/>
<rect x="573" y="312" width="11" height="1" fill="#000"/>
<rect x="573" y="312" width="1" height="11" fill="#000"/>
<rect x="573" y="322" width="11" height="1" fill="#c8c8c8"/>
<rect x="583" y="312" width="1" height="11" fill="#c8c8c8"/>
<rect x="574" y="313" width="9" height="9" fill="#fff"/>
<path d="M575,316 L577,318 L582,313 L582,316 L577,321 L575,319 Z" fill="#000" shape-rendering="auto"/>
<rect x="628" y="326" width="88" height="21" fill="#fff"/>
<rect x="628" y="326" width="88" height="1" fill="#c4c4c4"/>
<rect x="628" y="326" width="1" height="21" fill="#c4c4c4"/>
<rect x="629" y="327" width="86" height="1" fill="#d8d8d8"/>
<rect x="629" y="327" width="1" height="19" fill="#d8d8d8"/>
<rect x="628" y="346" width="88" height="1" fill="#000"/>
<rect x="715" y="326" width="1" height="21" fill="#000"/>
<rect x="629" y="345" width="86" height="1" fill="#808080"/>
<rect x="714" y="327" width="1" height="19" fill="#808080"/>
<rect x="561" y="357" width="160" height="1" fill="#d4d4d4"/>
<rect x="561" y="357" width="1" height="21" fill="#d4d4d4"/>
<rect x="722" y="356" width="1" height="24" fill="#d4d4d4"/>
<rect x="560" y="379" width="163" height="1" fill="#d4d4d4"/>
<rect x="560" y="356" width="162" height="1" fill="#808080"/>
<rect x="560" y="378" width="162" height="1" fill="#808080"/>
<rect x="560" y="356" width="1" height="23" fill="#808080"/>
<rect x="721" y="356" width="1" height="23" fill="#808080"/>
<rect x="561" y="387" width="160" height="1" fill="#d4d4d4"/>
<rect x="561" y="387" width="1" height="50" fill="#d4d4d4"/>
<rect x="722" y="386" width="1" height="53" fill="#d4d4d4"/>
<rect x="560" y="438" width="163" height="1" fill="#d4d4d4"/>
<rect x="560" y="386" width="162" height="1" fill="#808080"/>
<rect x="560" y="437" width="162" height="1" fill="#808080"/>
<rect x="560" y="386" width="1" height="52" fill="#808080"/>
<rect x="721" y="386" width="1" height="52" fill="#808080"/>
<rect x="4" y="387" width="9" height="1" fill="#d4d4d4"/>
<rect x="75" y="387" width="97" height="1" fill="#d4d4d4"/>
<rect x="4" y="387" width="1" height="51" fill="#d4d4d4"/>
<rect x="173" y="386" width="1" height="54" fill="#d4d4d4"/>
<rect x="3" y="439" width="171" height="1" fill="#d4d4d4"/>
<rect x="3" y="386" width="10" height="1" fill="#808080"/>
<rect x="75" y="386" width="98" height="1" fill="#808080"/>
<rect x="3" y="386" width="1" height="53" fill="#808080"/>
<rect x="172" y="386" width="1" height="53" fill="#808080"/>
<rect x="3" y="438" width="170" height="1" fill="#808080"/>
<rect x="13.5" y="383.5" width="7" height="7" fill="#0000ff" stroke="#000" stroke-width="1"/>
<rect x="188" y="387" width="9" height="1" fill="#d4d4d4"/>
<rect x="268" y="387" width="88" height="1" fill="#d4d4d4"/>
<rect x="188" y="387" width="1" height="51" fill="#d4d4d4"/>
<rect x="357" y="386" width="1" height="54" fill="#d4d4d4"/>
<rect x="187" y="439" width="171" height="1" fill="#d4d4d4"/>
<rect x="187" y="386" width="10" height="1" fill="#808080"/>
<rect x="268" y="386" width="89" height="1" fill="#808080"/>
<rect x="187" y="386" width="1" height="53" fill="#808080"/>
<rect x="356" y="386" width="1" height="53" fill="#808080"/>
<rect x="187" y="438" width="170" height="1" fill="#808080"/>
<rect x="197.5" y="383.5" width="7" height="7" fill="#ff0000" stroke="#000" stroke-width="1"/>
<rect x="373" y="387" width="9" height="1" fill="#d4d4d4"/>
<rect x="421" y="387" width="122" height="1" fill="#d4d4d4"/>
<rect x="373" y="387" width="1" height="37" fill="#d4d4d4"/>
<rect x="544" y="386" width="1" height="40" fill="#d4d4d4"/>
<rect x="372" y="425" width="173" height="1" fill="#d4d4d4"/>
<rect x="372" y="386" width="10" height="1" fill="#808080"/>
<rect x="421" y="386" width="123" height="1" fill="#808080"/>
<rect x="372" y="386" width="1" height="39" fill="#808080"/>
<rect x="543" y="386" width="1" height="39" fill="#808080"/>
<rect x="372" y="424" width="172" height="1" fill="#808080"/>
<rect x="382.5" y="383.5" width="7" height="7" fill="#0000ff" stroke="#000" stroke-width="1"/>
<text x="164.65" y="25" font-size="11" fill="#000" textLength="24.62" lengthAdjust="spacingAndGlyphs" xml:space="preserve">[5:0]</text>
<text x="198.00" y="25" font-size="11" fill="#000" textLength="134.41" lengthAdjust="spacingAndGlyphs" xml:space="preserve">BENQ DVD LS DW1655 BCIB</text>
<text x="590.98" y="24" font-size="11" fill="#000" textLength="23.66" lengthAdjust="spacingAndGlyphs" xml:space="preserve">Start</text>
<text x="674.58" y="24" font-size="11" fill="#000" textLength="18.78" lengthAdjust="spacingAndGlyphs" xml:space="preserve">Exit</text>
<text x="6.88" y="63" font-size="12" fill="#000" textLength="55.85" lengthAdjust="spacingAndGlyphs" xml:space="preserve">Benchmark</text>
<text x="74.91" y="63" font-size="12" fill="#000" textLength="61.97" lengthAdjust="spacingAndGlyphs" xml:space="preserve">Create Disc</text>
<text x="148.72" y="63" font-size="12" fill="#000" textLength="45.96" lengthAdjust="spacingAndGlyphs" xml:space="preserve">Disc Info</text>
<text x="206.93" y="61" font-size="12" fill="#000" textLength="62.08" lengthAdjust="spacingAndGlyphs" xml:space="preserve">Disc Quality</text>
<text x="282.40" y="63" font-size="12" fill="#000" textLength="115.85" lengthAdjust="spacingAndGlyphs" xml:space="preserve">Advanced Disc Quality</text>
<text x="409.74" y="63" font-size="12" fill="#000" textLength="48.62" lengthAdjust="spacingAndGlyphs" xml:space="preserve">ScanDisc</text>
<text x="240.72" y="80" font-size="12" fill="#000" textLength="274.69" lengthAdjust="spacingAndGlyphs" xml:space="preserve">recorded with HL-DT-STDVD-RAM GSA-H55N v1.00</text>
<text x="568.30" y="84" font-size="12" fill="#000" textLength="45.91" lengthAdjust="spacingAndGlyphs" xml:space="preserve">Disc info</text>
<text x="568.60" y="96" font-size="12" fill="#000" textLength="27.16" lengthAdjust="spacingAndGlyphs" xml:space="preserve">Type:</text>
<text x="567.49" y="113" font-size="12" fill="#000" textLength="13.93" lengthAdjust="spacingAndGlyphs" xml:space="preserve">ID:</text>
<text x="567.69" y="129" font-size="12" fill="#000" textLength="26.03" lengthAdjust="spacingAndGlyphs" xml:space="preserve">Date:</text>
<text x="567.49" y="146" font-size="12" fill="#000" textLength="29.64" lengthAdjust="spacingAndGlyphs" xml:space="preserve">Label:</text>
<text x="622.67" y="96" font-size="12" fill="#000080" textLength="39.16" lengthAdjust="spacingAndGlyphs" xml:space="preserve">DVD-R</text>
<text x="622.47" y="113" font-size="12" fill="#000080" textLength="49.18" lengthAdjust="spacingAndGlyphs" xml:space="preserve">FTI RG16</text>
<text x="621.53" y="129" font-size="12" fill="#000080" textLength="62.99" lengthAdjust="spacingAndGlyphs" xml:space="preserve">30 Apr 2007</text>
<text x="622.12" y="146" font-size="12" fill="#000080" textLength="73.58" lengthAdjust="spacingAndGlyphs" xml:space="preserve">CDS_TEST_B2</text>
<text x="567.51" y="168" font-size="12" fill="#000" textLength="42.74" lengthAdjust="spacingAndGlyphs" xml:space="preserve">Settings</text>
<text x="573.80" y="186" font-size="11" fill="#000" textLength="43.07" lengthAdjust="spacingAndGlyphs" xml:space="preserve">4 X CLV</text>
<text x="570.82" y="210" font-size="12" fill="#000" textLength="28.16" lengthAdjust="spacingAndGlyphs" xml:space="preserve">Start:</text>
<text x="571.86" y="231" font-size="12" fill="#000" textLength="20.82" lengthAdjust="spacingAndGlyphs" xml:space="preserve">End:</text>
<text x="635.60" y="209" font-size="11" fill="#000" textLength="45.03" lengthAdjust="spacingAndGlyphs" xml:space="preserve">0000 MB</text>
<text x="635.60" y="230" font-size="11" fill="#000" textLength="45.03" lengthAdjust="spacingAndGlyphs" xml:space="preserve">4489 MB</text>
<text x="589.80" y="247" font-size="12" fill="#000" textLength="56.34" lengthAdjust="spacingAndGlyphs" xml:space="preserve">Quick scan</text>
<text x="588.84" y="264" font-size="12" fill="#000" textLength="68.32" lengthAdjust="spacingAndGlyphs" xml:space="preserve">Show C1/PIE</text>
<text x="588.83" y="277" font-size="12" fill="#000" textLength="68.35" lengthAdjust="spacingAndGlyphs" xml:space="preserve">Show C2/PIF</text>
<text x="588.61" y="292" font-size="12" fill="#000" textLength="55.22" lengthAdjust="spacingAndGlyphs" xml:space="preserve">Show jitter</text>
<text x="588.66" y="307" font-size="12" fill="#000" textLength="87.92" lengthAdjust="spacingAndGlyphs" xml:space="preserve">Show read speed</text>
<text x="588.64" y="321" font-size="12" fill="#000" textLength="91.15" lengthAdjust="spacingAndGlyphs" xml:space="preserve">Show write speed</text>
<text x="648.00" y="340" font-size="12" fill="#000" textLength="48.24" lengthAdjust="spacingAndGlyphs" xml:space="preserve">Advanced</text>
<text x="571.90" y="372" font-size="12" fill="#000" textLength="70.40" lengthAdjust="spacingAndGlyphs" xml:space="preserve">Quality score:</text>
<text x="697.85" y="372" font-size="12" fill="#000080" textLength="12.69" lengthAdjust="spacingAndGlyphs" xml:space="preserve">96</text>
<text x="571.77" y="404" font-size="12" fill="#000" textLength="47.59" lengthAdjust="spacingAndGlyphs" xml:space="preserve">Progress:</text>
<text x="680.84" y="404" font-size="12" fill="#000080" textLength="29.39" lengthAdjust="spacingAndGlyphs" xml:space="preserve">100 %</text>
<text x="571.76" y="419" font-size="12" fill="#000" textLength="43.42" lengthAdjust="spacingAndGlyphs" xml:space="preserve">Position:</text>
<text x="664.50" y="419" font-size="12" fill="#000080" textLength="46.70" lengthAdjust="spacingAndGlyphs" xml:space="preserve">4488 MB</text>
<text x="570.89" y="432" font-size="12" fill="#000" textLength="34.66" lengthAdjust="spacingAndGlyphs" xml:space="preserve">Speed:</text>
<text x="678.50" y="432" font-size="12" fill="#000080" textLength="32.36" lengthAdjust="spacingAndGlyphs" xml:space="preserve">4.02 X</text>
<text x="24.96" y="390" font-size="12" fill="#000" textLength="44.56" lengthAdjust="spacingAndGlyphs" xml:space="preserve">PI Errors</text>
<text x="12.90" y="405" font-size="12" fill="#000" textLength="43.13" lengthAdjust="spacingAndGlyphs" xml:space="preserve">Average:</text>
<text x="11.68" y="419" font-size="12" fill="#000" textLength="50.85" lengthAdjust="spacingAndGlyphs" xml:space="preserve">Maximum:</text>
<text x="12.20" y="432" font-size="12" fill="#000" textLength="27.97" lengthAdjust="spacingAndGlyphs" xml:space="preserve">Total:</text>
<text x="134.01" y="405" font-size="12" fill="#000080" textLength="26.81" lengthAdjust="spacingAndGlyphs" xml:space="preserve">16.26</text>
<text x="146.94" y="419" font-size="12" fill="#000080" textLength="12.80" lengthAdjust="spacingAndGlyphs" xml:space="preserve">50</text>
<text x="124.08" y="432" font-size="12" fill="#000080" textLength="36.78" lengthAdjust="spacingAndGlyphs" xml:space="preserve">291832</text>
<text x="208.75" y="390" font-size="12" fill="#000" textLength="54.59" lengthAdjust="spacingAndGlyphs" xml:space="preserve">PI Failures</text>
<text x="197.90" y="405" font-size="12" fill="#000" textLength="43.13" lengthAdjust="spacingAndGlyphs" xml:space="preserve">Average:</text>
<text x="196.68" y="419" font-size="12" fill="#000" textLength="50.85" lengthAdjust="spacingAndGlyphs" xml:space="preserve">Maximum:</text>
<text x="197.20" y="432" font-size="12" fill="#000" textLength="27.97" lengthAdjust="spacingAndGlyphs" xml:space="preserve">Total:</text>
<text x="325.40" y="405" font-size="12" fill="#000080" textLength="18.69" lengthAdjust="spacingAndGlyphs" xml:space="preserve">0.01</text>
<text x="339.90" y="419" font-size="12" fill="#000080" textLength="6.02" lengthAdjust="spacingAndGlyphs" xml:space="preserve">7</text>
<text x="320.76" y="432" font-size="12" fill="#000080" textLength="25.21" lengthAdjust="spacingAndGlyphs" xml:space="preserve">1348</text>
<text x="395.10" y="390" font-size="12" fill="#000" textLength="25.82" lengthAdjust="spacingAndGlyphs" xml:space="preserve">Jitter</text>
<text x="383.70" y="405" font-size="12" fill="#000" textLength="43.13" lengthAdjust="spacingAndGlyphs" xml:space="preserve">Average:</text>
<text x="382.48" y="419" font-size="12" fill="#000" textLength="50.85" lengthAdjust="spacingAndGlyphs" xml:space="preserve">Maximum:</text>
<text x="502.00" y="405" font-size="12" fill="#000080" textLength="30.49" lengthAdjust="spacingAndGlyphs" xml:space="preserve">7.07 %</text>
<text x="507.60" y="419" font-size="12" fill="#000080" textLength="25.16" lengthAdjust="spacingAndGlyphs" xml:space="preserve">8.9 %</text>
<text x="382.76" y="437" font-size="12" fill="#000" textLength="59.00" lengthAdjust="spacingAndGlyphs" xml:space="preserve">PO failures:</text>
<text x="525.00" y="437" font-size="12" fill="#000080" textLength="5.57" lengthAdjust="spacingAndGlyphs" xml:space="preserve">0</text>
<text x="17.08" y="86" font-size="12" fill="#000" textLength="12.25" lengthAdjust="spacingAndGlyphs" xml:space="preserve">50</text>
<text x="18.00" y="110" font-size="12" fill="#000" textLength="11.30" lengthAdjust="spacingAndGlyphs" xml:space="preserve">40</text>
<text x="17.08" y="134" font-size="12" fill="#000" textLength="12.25" lengthAdjust="spacingAndGlyphs" xml:space="preserve">30</text>
<text x="17.08" y="158" font-size="12" fill="#000" textLength="12.25" lengthAdjust="spacingAndGlyphs" xml:space="preserve">20</text>
<text x="17.08" y="182" font-size="12" fill="#000" textLength="12.25" lengthAdjust="spacingAndGlyphs" xml:space="preserve">10</text>
<text x="536.08" y="86" font-size="12" fill="#000" textLength="12.25" lengthAdjust="spacingAndGlyphs" xml:space="preserve">20</text>
<text x="536.08" y="110" font-size="12" fill="#000" textLength="12.25" lengthAdjust="spacingAndGlyphs" xml:space="preserve">16</text>
<text x="536.08" y="134" font-size="12" fill="#000" textLength="12.25" lengthAdjust="spacingAndGlyphs" xml:space="preserve">12</text>
<text x="537.00" y="158" font-size="12" fill="#000" textLength="5.57" lengthAdjust="spacingAndGlyphs" xml:space="preserve">8</text>
<text x="537.00" y="182" font-size="12" fill="#000" textLength="5.57" lengthAdjust="spacingAndGlyphs" xml:space="preserve">4</text>
<text x="17.08" y="236" font-size="12" fill="#000" textLength="12.25" lengthAdjust="spacingAndGlyphs" xml:space="preserve">10</text>
<text x="536.08" y="236" font-size="12" fill="#000" textLength="12.25" lengthAdjust="spacingAndGlyphs" xml:space="preserve">10</text>
<text x="24.00" y="260" font-size="12" fill="#000" textLength="5.57" lengthAdjust="spacingAndGlyphs" xml:space="preserve">8</text>
<text x="537.00" y="260" font-size="12" fill="#000" textLength="5.57" lengthAdjust="spacingAndGlyphs" xml:space="preserve">8</text>
<text x="23.00" y="284" font-size="12" fill="#000" textLength="6.69" lengthAdjust="spacingAndGlyphs" xml:space="preserve">6</text>
<text x="536.00" y="284" font-size="12" fill="#000" textLength="6.69" lengthAdjust="spacingAndGlyphs" xml:space="preserve">6</text>
<text x="24.00" y="308" font-size="12" fill="#000" textLength="5.57" lengthAdjust="spacingAndGlyphs" xml:space="preserve">4</text>
<text x="537.00" y="308" font-size="12" fill="#000" textLength="5.57" lengthAdjust="spacingAndGlyphs" xml:space="preserve">4</text>
<text x="23.00" y="332" font-size="12" fill="#000" textLength="6.69" lengthAdjust="spacingAndGlyphs" xml:space="preserve">2</text>
<text x="536.00" y="332" font-size="12" fill="#000" textLength="6.69" lengthAdjust="spacingAndGlyphs" xml:space="preserve">2</text>
<text x="32.00" y="218" font-size="12" fill="#000" textLength="13.56" lengthAdjust="spacingAndGlyphs" xml:space="preserve">0.0</text>
<text x="32.00" y="368" font-size="12" fill="#000" textLength="13.56" lengthAdjust="spacingAndGlyphs" xml:space="preserve">0.0</text>
<text x="87.00" y="218" font-size="12" fill="#000" textLength="13.56" lengthAdjust="spacingAndGlyphs" xml:space="preserve">0.5</text>
<text x="87.00" y="368" font-size="12" fill="#000" textLength="13.56" lengthAdjust="spacingAndGlyphs" xml:space="preserve">0.5</text>
<text x="141.13" y="218" font-size="12" fill="#000" textLength="14.46" lengthAdjust="spacingAndGlyphs" xml:space="preserve">1.0</text>
<text x="141.13" y="368" font-size="12" fill="#000" textLength="14.46" lengthAdjust="spacingAndGlyphs" xml:space="preserve">1.0</text>
<text x="196.13" y="218" font-size="12" fill="#000" textLength="14.46" lengthAdjust="spacingAndGlyphs" xml:space="preserve">1.5</text>
<text x="196.13" y="368" font-size="12" fill="#000" textLength="14.46" lengthAdjust="spacingAndGlyphs" xml:space="preserve">1.5</text>
<text x="251.13" y="218" font-size="12" fill="#000" textLength="14.46" lengthAdjust="spacingAndGlyphs" xml:space="preserve">2.0</text>
<text x="251.13" y="368" font-size="12" fill="#000" textLength="14.46" lengthAdjust="spacingAndGlyphs" xml:space="preserve">2.0</text>
<text x="306.13" y="218" font-size="12" fill="#000" textLength="14.46" lengthAdjust="spacingAndGlyphs" xml:space="preserve">2.5</text>
<text x="306.13" y="368" font-size="12" fill="#000" textLength="14.46" lengthAdjust="spacingAndGlyphs" xml:space="preserve">2.5</text>
<text x="361.13" y="218" font-size="12" fill="#000" textLength="14.46" lengthAdjust="spacingAndGlyphs" xml:space="preserve">3.0</text>
<text x="361.13" y="368" font-size="12" fill="#000" textLength="14.46" lengthAdjust="spacingAndGlyphs" xml:space="preserve">3.0</text>
<text x="416.13" y="218" font-size="12" fill="#000" textLength="14.46" lengthAdjust="spacingAndGlyphs" xml:space="preserve">3.5</text>
<text x="416.13" y="368" font-size="12" fill="#000" textLength="14.46" lengthAdjust="spacingAndGlyphs" xml:space="preserve">3.5</text>
<text x="472.00" y="218" font-size="12" fill="#000" textLength="13.56" lengthAdjust="spacingAndGlyphs" xml:space="preserve">4.0</text>
<text x="472.00" y="368" font-size="12" fill="#000" textLength="13.56" lengthAdjust="spacingAndGlyphs" xml:space="preserve">4.0</text>
<text x="528.00" y="218" font-size="12" fill="#000" textLength="13.56" lengthAdjust="spacingAndGlyphs" xml:space="preserve">4.5</text>
<text x="528.00" y="368" font-size="12" fill="#000" textLength="13.56" lengthAdjust="spacingAndGlyphs" xml:space="preserve">4.5</text></svg>
</body></html>
